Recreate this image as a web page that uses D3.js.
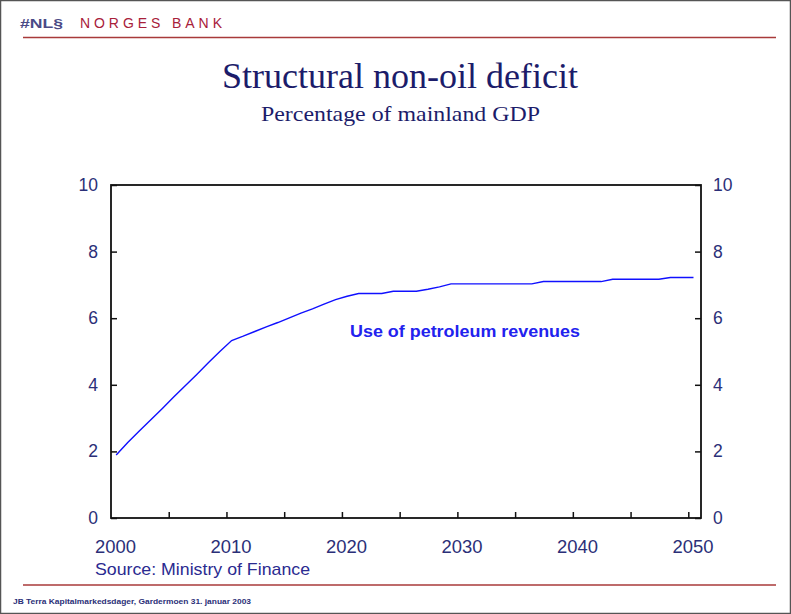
<!DOCTYPE html>
<html><head><meta charset="utf-8">
<script src="https://cdn.jsdelivr.net/npm/d3@7"></script>
<style>body{margin:0;background:#fff}svg{display:block}</style>
</head><body>
<svg id="c" width="791" height="614"></svg>
<script>
const years = d3.range(2000, 2051);
const deficit = [1.89,2.27,2.61,2.95,3.29,3.64,3.98,4.32,4.67,5.01,5.33,
 5.46,5.60,5.74,5.87,6.01,6.15,6.28,6.42,6.56,6.66,
 6.74,6.74,6.74,6.81,6.81,6.81,6.87,6.94,7.03,7.03,
 7.03,7.03,7.03,7.03,7.03,7.03,7.10,7.10,7.10,7.10,
 7.10,7.10,7.17,7.17,7.17,7.17,7.17,7.22,7.22,7.22];
const xTicksLabels = [2000,2010,2020,2030,2040,2050];
const xTicksMinor = d3.range(2005, 2051, 5);
const yTicks = [0,2,4,6,8,10];
const title = "Structural non-oil deficit";
const subtitle = "Percentage of mainland GDP";
const seriesLabel = "Use of petroleum revenues";
const source = "Source: Ministry of Finance";
const footer = "JB Terra Kapitalmarkedsdager, Gardermoen 31. januar 2003";

const svg = d3.select("#c");
const navy = "#2b2f78";
// frame
svg.append("rect").attr("x",0.5).attr("y",0.5).attr("width",790).attr("height",613)
  .attr("fill","none").attr("stroke","#555").attr("stroke-width",1.5);
// header
svg.append("text").attr("x",20).attr("y",28).attr("font-family","Liberation Sans")
  .attr("font-size",12).attr("font-weight","bold").attr("fill","#4a4a86")
  .attr("textLength",43).attr("lengthAdjust","spacingAndGlyphs").text("#NL§");
svg.append("text").attr("x",80).attr("y",28).attr("font-family","Liberation Sans")
  .attr("font-size",14).attr("fill","#a8203a")
  .attr("textLength",142).attr("lengthAdjust","spacing").text("NORGES BANK");
svg.append("line").attr("x1",23).attr("x2",776).attr("y1",37.5).attr("y2",37.5)
  .attr("stroke","#a83a3a").attr("stroke-width",1.5);
svg.append("line").attr("x1",23).attr("x2",776).attr("y1",585).attr("y2",585)
  .attr("stroke","#a83a3a").attr("stroke-width",1.5);
svg.append("text").attr("x",13).attr("y",604).attr("font-family","Liberation Sans")
  .attr("font-size",7).attr("font-weight","bold").attr("fill",navy)
  .attr("textLength",238).attr("lengthAdjust","spacingAndGlyphs").text(footer);

svg.append("text").attr("x",222).attr("y",88)
  .attr("font-family","Liberation Serif").attr("font-size",35).attr("fill","#1c1c6a")
  .attr("textLength",356).attr("lengthAdjust","spacingAndGlyphs").text(title);
svg.append("text").attr("x",261).attr("y",121)
  .attr("font-family","Liberation Serif").attr("font-size",22).attr("fill","#1c1c6a")
  .attr("textLength",279).attr("lengthAdjust","spacingAndGlyphs").text(subtitle);

const L=111, R=701, T=185, B=518;
const x = d3.scaleLinear().domain([2000, 2051.1]).range([L, R]);
const y = d3.scaleLinear().domain([0, 10]).range([B, T]);

const g = svg.append("g");
// axes
const bottom = g.append("g").attr("transform",`translate(0,${B})`)
  .call(d3.axisBottom(x).tickValues(xTicksMinor).tickSize(-6).tickFormat(""));
const left = g.append("g").attr("transform",`translate(${L},0)`)
  .call(d3.axisLeft(y).tickValues(yTicks).tickSize(-6).tickFormat(""));
const right = g.append("g").attr("transform",`translate(${R},0)`)
  .call(d3.axisRight(y).tickValues(yTicks).tickSize(-6).tickFormat(""));
[bottom,left,right].forEach(a=>{
  a.select(".domain").remove();
  a.selectAll("line").attr("stroke","#111").attr("stroke-width",1.5);
});
g.append("rect").attr("x",L).attr("y",T).attr("width",R-L).attr("height",B-T)
  .attr("fill","none").attr("stroke","#111").attr("stroke-width",1.8);

// tick labels
const lab = svg.append("g").attr("font-family","Liberation Sans").attr("font-size",17.5).attr("fill",navy);
lab.selectAll(".yl").data(yTicks).join("text").attr("x",L-13).attr("y",d=>y(d)+6)
  .attr("text-anchor","end").text(d=>d);
lab.selectAll(".yr").data(yTicks).join("text").attr("x",R+12).attr("y",d=>y(d)+6)
  .attr("text-anchor","start").text(d=>d);
lab.selectAll(".xl").data(xTicksLabels).join("text").attr("x",d=>x(d+0.4)).attr("y",553)
  .attr("text-anchor","middle").attr("textLength",41).attr("lengthAdjust","spacingAndGlyphs").text(d=>d);

svg.append("text").attr("x",95).attr("y",575).attr("font-family","Liberation Sans")
  .attr("font-size",17).attr("fill","#2a2a90")
  .attr("textLength",215).attr("lengthAdjust","spacingAndGlyphs").text(source);

// line
const line = d3.line().x((d,i)=>x(years[i]+0.45)).y(d=>y(d));
svg.append("path").datum(deficit).attr("d",line).attr("fill","none")
  .attr("stroke","#1010ff").attr("stroke-width",1.4);

svg.append("text").attr("x",350).attr("y",337).attr("font-family","Liberation Sans")
  .attr("font-size",17).attr("font-weight","bold").attr("fill","#2222ee")
  .attr("textLength",230).attr("lengthAdjust","spacingAndGlyphs").text(seriesLabel);
</script>
</body></html>
